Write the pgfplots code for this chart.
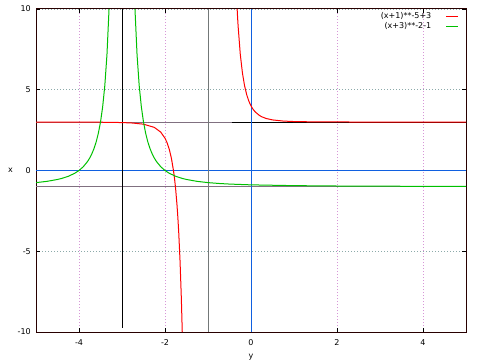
\documentclass[border=0pt]{standalone}
\usepackage{fontspec}
\setmainfont{DejaVu Sans}
\usepackage{pgfplots}
\pgfplotsset{compat=1.18}
\definecolor{gpred}{RGB}{255,0,0}
\definecolor{gpgreen}{RGB}{0,192,0}
\definecolor{gpblue}{RGB}{16,96,224}
\definecolor{gpgray}{RGB}{128,112,128}
\definecolor{gpgrayb}{RGB}{115,120,120}
\definecolor{gridx}{RGB}{215,150,215}
\definecolor{gridy}{RGB}{140,170,170}
\definecolor{border}{RGB}{40,0,0}
\begin{document}
\begin{tikzpicture}[x=1bp,y=1bp]
\useasboundingbox (0,0) rectangle (480,360);
\begin{axis}[
  at={(36bp,28bp)}, anchor=south west,
  scale only axis, width=430bp, height=323bp,
  xmin=-5, xmax=5, ymin=-10, ymax=10,
  xtick={-4,-2,0,2,4}, xticklabels={-4,-2,0,2,4},
  ytick={-10,-5,0,5,10}, yticklabels={-10,-5,0,5,10},
  tick align=inside, major tick length=4bp,
  tick style={black, line width=0.8bp},
  axis line style={border, line width=1bp},
  font=\fontsize{8bp}{9.5bp}\selectfont,
  xticklabel style={inner sep=0pt, anchor=north, yshift=-7bp},
  yticklabel style={inner sep=0pt, anchor=east, xshift=-5bp},
  xlabel={y}, ylabel={x},
  xlabel style={at={(axis description cs:0.5,0)}, anchor=base, inner sep=0pt, yshift=-26bp},
  ylabel style={at={(axis description cs:0,0.5)}, anchor=center, rotate=-90, inner sep=0pt, xshift=-25.5bp},
  grid=major,
  major x grid style={gridx, line width=0.8bp, dash pattern=on 1bp off 2bp},
  major y grid style={gridy, line width=0.8bp, dash pattern=on 1bp off 2bp},
  legend plot pos=right,
  legend cell align=right,
  legend style={draw=none, fill=none, at={(rel axis cs:0.9837,0.99)}, anchor=north east,
    inner sep=0pt, nodes={inner sep=0.5bp}, /tikz/column sep=14bp, /tikz/row sep=1.2bp,
    font=\fontsize{8bp}{9bp}\selectfont},
  legend image code/.code={\draw[#1] (0bp,0bp) -- (12bp,0bp);},
]
\addlegendimage{gpred, line width=1bp}
\addlegendentry{(x+1)**-5+3}
\addlegendimage{gpgreen, line width=1bp}
\addlegendentry{(x+3)**-2-1}
% reference lines
\addplot[gpgray, line width=1bp, forget plot] coordinates {(-5,3) (5,3)};
\addplot[black, line width=1bp, forget plot] coordinates {(-0.45,2.97) (5,2.97)};
\addplot[gpgray, line width=1bp, forget plot] coordinates {(-5,-1) (5,-1)};
\addplot[gpblue, line width=1bp, forget plot] coordinates {(-5,0) (5,0)};
\addplot[gpblue, line width=1bp, forget plot] coordinates {(0,-10) (0,10)};
\addplot[gpgrayb, line width=1bp, forget plot] coordinates {(-1,-10) (-1,10)};
\addplot[black, line width=1bp, forget plot] coordinates {(-3,-9.75) (-3,10)};
% (x+1)**-5+3
\addplot[gpred, line width=1bp, forget plot] coordinates {
(-5,2.999) (-4,2.996) (-3.5,2.990) (-3,2.969) (-2.75,2.939) (-2.5,2.868) (-2.25,2.672)
(-2.1,2.379) (-2,2) (-1.95,1.708) (-1.9,1.3065) (-1.85,0.746) (-1.8,-0.052)
(-1.775,-0.576) (-1.75,-1.214) (-1.72,-2.168) (-1.7,-2.950) (-1.68,-3.877)
(-1.65,-5.618) (-1.62,-7.916) (-1.5987,-10)
};
\addplot[gpred, line width=1bp, forget plot] coordinates {
(-0.3224,10) (-0.31,9.394) (-0.3,8.950) (-0.25,7.214) (-0.2,6.052) (-0.15,5.254)
(-0.1,4.6935) (-0.05,4.292) (0,4) (0.05,3.7835) (0.1,3.621) (0.2,3.402) (0.25,3.328)
(0.35,3.223) (0.5,3.132) (0.75,3.061) (1,3.031) (1.5,3.010) (2,3.004) (3,3.001) (5,3.0001)
};
% (x+3)**-2-1
\addplot[gpgreen, line width=1bp, forget plot] coordinates {
(-5,-0.75) (-4.75,-0.6735) (-4.5,-0.5556) (-4.4,-0.4898) (-4.25,-0.36) (-4.1,-0.1736)
(-4,0) (-3.9,0.2346) (-3.8,0.5625) (-3.75,0.778) (-3.7,1.0408) (-3.65,1.367)
(-3.6,1.7778) (-3.55,2.306) (-3.5,3) (-3.45,3.938) (-3.4,5.25) (-3.35,7.163) (-3.3015,10)
};
\addplot[gpgreen, line width=1bp, forget plot] coordinates {
(-2.6985,10) (-2.65,7.163) (-2.6,5.25) (-2.55,3.938) (-2.5,3) (-2.45,2.306) (-2.4,1.7778)
(-2.35,1.367) (-2.3,1.0408) (-2.25,0.778) (-2.2,0.5625) (-2.1,0.2346) (-2,0)
(-1.9,-0.1736) (-1.75,-0.36) (-1.6,-0.4898) (-1.5,-0.5556) (-1.25,-0.6735) (-1,-0.75)
(-0.75,-0.8025) (-0.5,-0.84) (0,-0.8889) (1,-0.9375) (2,-0.96) (3,-0.9722) (5,-0.9844)
};
\end{axis}
\end{tikzpicture}
\end{document}
